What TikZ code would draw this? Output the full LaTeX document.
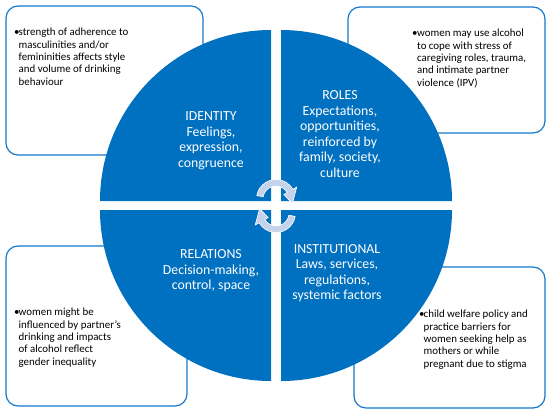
\documentclass[tikz,border=0pt]{standalone}
\usepackage{fontspec}
\setmainfont{Carlito}
\definecolor{qblue}{RGB}{0,112,192}
\definecolor{lineblue}{RGB}{20,120,205}
\definecolor{arrowfill}{RGB}{196,210,234}
\begin{document}
\begin{tikzpicture}[x=1pt,y=-1pt,
  infobox/.style={draw=lineblue,line width=1.2pt,fill=white,rounded corners=12pt},
  quad/.style={fill=qblue},
  boxtext/.style={anchor=north west,inner sep=0pt,align=left,font=\fontsize{10.9}{12.4}\selectfont,text=black},
  quadtext/.style={anchor=center,inner sep=0pt,align=center,text=white,font=\fontsize{13.8}{15.5}\selectfont},
  cyc/.style={fill=arrowfill,draw=white,line width=0.6pt}]
\useasboundingbox[fill=white] (0,0) rectangle (550,413);
% boxes
\draw[infobox] (6,6) rectangle (203,155);
\draw[infobox] (348,7) rectangle (545,133);
\draw[infobox] (6,246) rectangle (187,406);
\draw[infobox] (354,267) rectangle (545,408);
% quadrants
\fill[quad] (271,201) -- ++(-171,0) arc[start angle=180,end angle=270,radius=171] -- cycle;
\fill[quad] (281,201) -- ++(0,-171) arc[start angle=270,end angle=360,radius=171] -- cycle;
\fill[quad] (281,210) -- ++(171,0) arc[start angle=0,end angle=90,radius=171] -- cycle;
\fill[quad] (271,210) -- ++(0,171) arc[start angle=90,end angle=180,radius=171] -- cycle;
% quadrant texts
\node[quadtext] (identity) at (211,141) {IDENTITY\\Feelings,\\expression,\\congruence};
\node[quadtext] (roles) at (340,134) {ROLES\\Expectations,\\opportunities,\\reinforced by\\family, society,\\culture};
\node[quadtext] (relations) at (211,271) {RELATIONS\\Decision-making,\\control, space};
\node[quadtext] (institutional) at (337,273) {INSTITUTIONAL\\Laws, services,\\regulations,\\systemic factors};
% box texts
\node[boxtext] (tl) at (14,28) {\makebox[4.5pt][l]{•}strength of adherence to\\\hspace*{4.5pt}masculinities and/or\\\hspace*{4.5pt}femininities affects style\\\hspace*{4.5pt}and volume of drinking\\\hspace*{4.5pt}behaviour};
\node[boxtext] (tr) at (412,29) {\makebox[5pt][l]{•}women may use alcohol\\\hspace*{5pt}to cope with stress of\\\hspace*{5pt}caregiving roles, trauma,\\\hspace*{5pt}and intimate partner\\\hspace*{5pt}violence (IPV)};
\node[boxtext] (bl) at (14,308) {\makebox[4.5pt][l]{•}women might be\\\hspace*{4.5pt}influenced by partner's\\\hspace*{4.5pt}drinking and impacts\\\hspace*{4.5pt}of alcohol reflect\\\hspace*{4.5pt}gender inequality};
\node[boxtext] (br) at (419,310) {\makebox[4.5pt][l]{•}child welfare policy and\\\hspace*{4.5pt}practice barriers for\\\hspace*{4.5pt}women seeking help as\\\hspace*{4.5pt}mothers or while\\\hspace*{4.5pt}pregnant due to stigma};
% cycle arrows
\begin{scope}[shift={(276,199)}]
\path[cyc] (190:19.5) arc[start angle=190,end angle=330,radius=19.5] -- (330:24) -- (15:17) -- (330:9) -- (330:13) arc[start angle=330,end angle=190,radius=13] -- cycle;
\end{scope}
\begin{scope}[shift={(276,213)},rotate=180]
\path[cyc] (190:19.5) arc[start angle=190,end angle=330,radius=19.5] -- (330:24) -- (15:17) -- (330:9) -- (330:13) arc[start angle=330,end angle=190,radius=13] -- cycle;
\end{scope}
\end{tikzpicture}
\end{document}
